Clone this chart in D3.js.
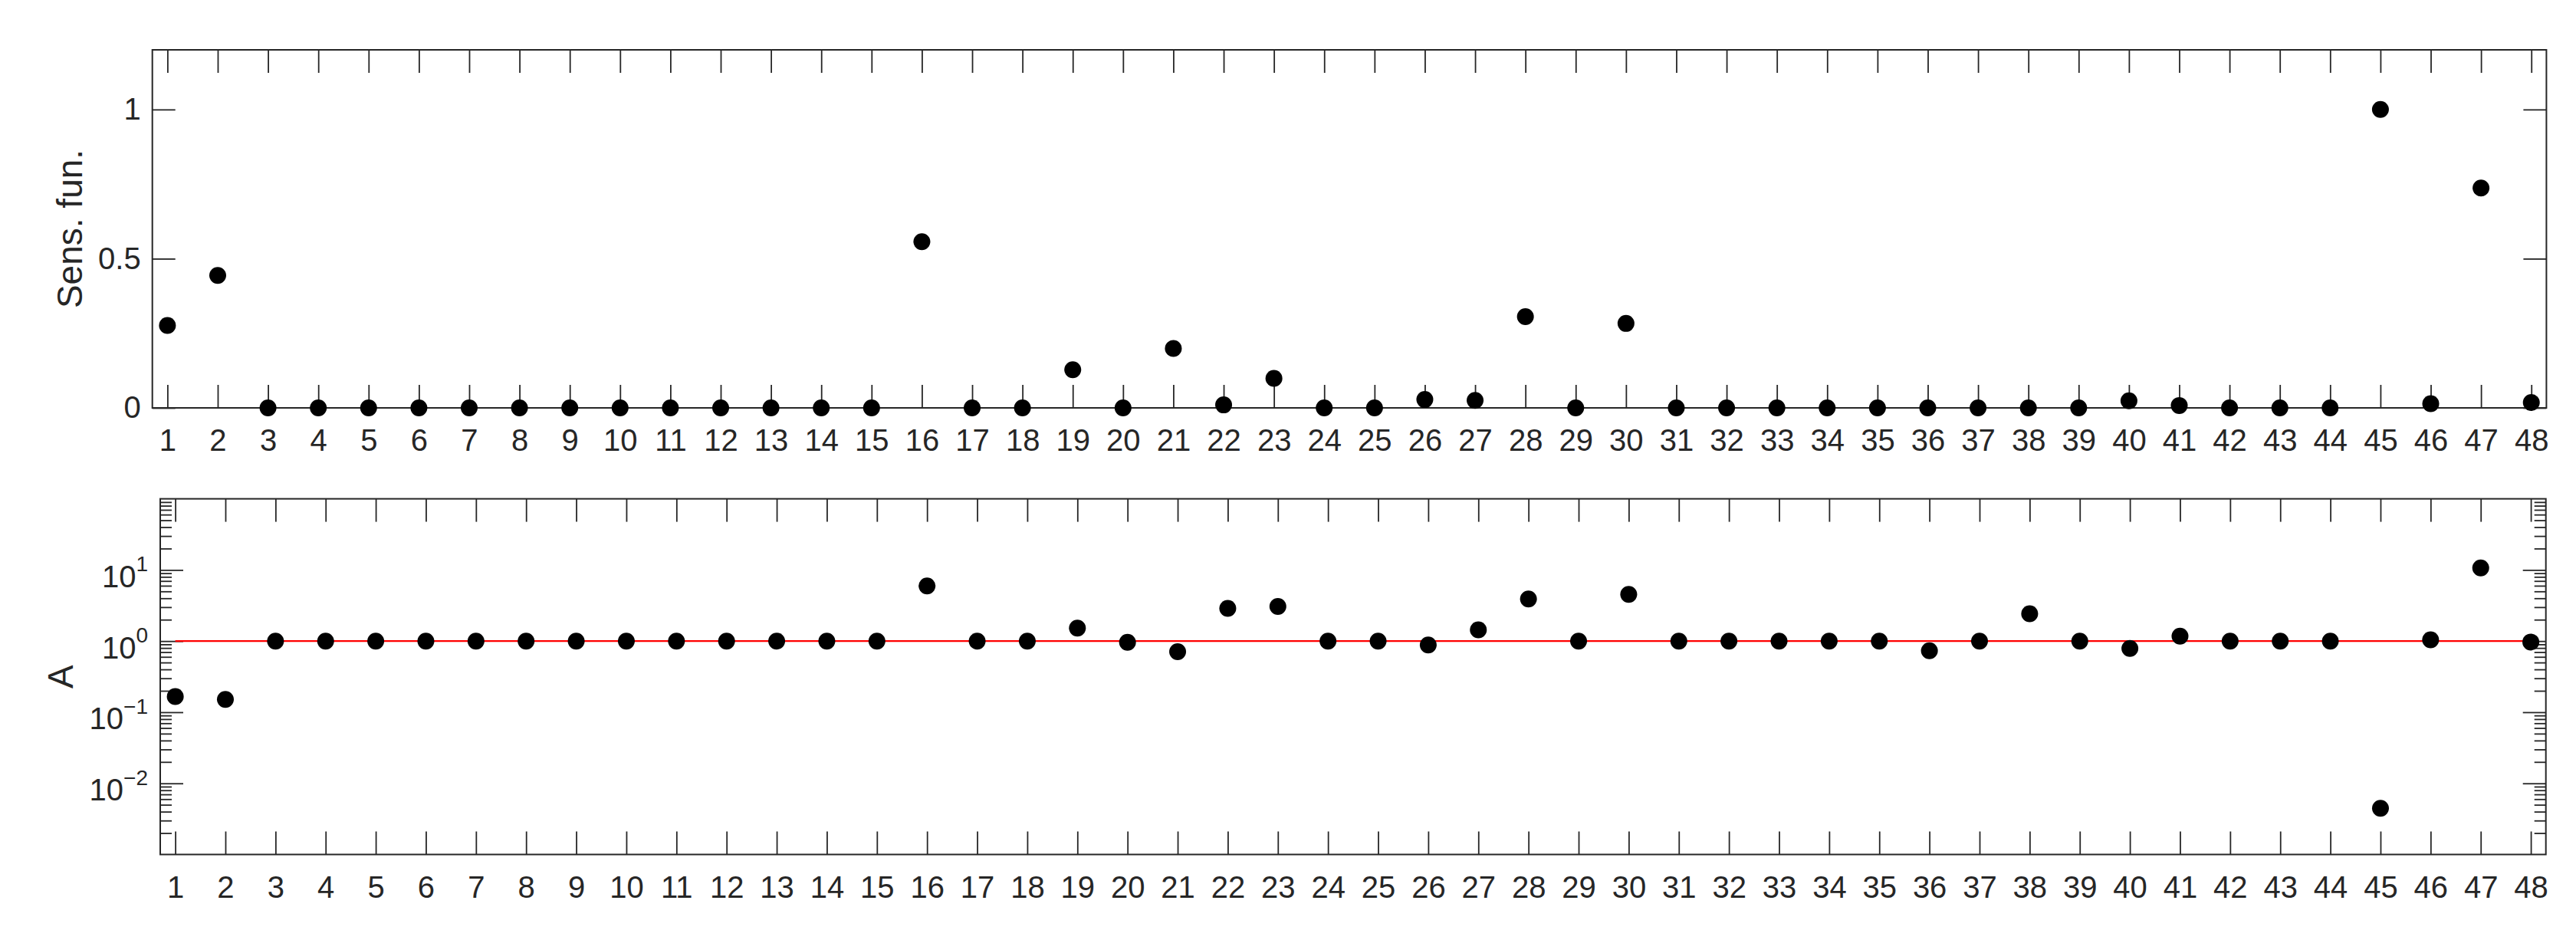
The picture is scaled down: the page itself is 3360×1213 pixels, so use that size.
<!DOCTYPE html>
<html><head><meta charset="utf-8">
<script src="https://cdn.jsdelivr.net/npm/d3@7"></script>
<style>
html,body{margin:0;padding:0;background:#fff;}
svg{display:block;}
</style></head><body>
<svg id="chart" width="3360" height="1213"></svg>
<script>
// ---------- data ----------
const paramIndex = [1,2,3,4,5,6,7,8,9,10,11,12,13,14,15,16,17,18,19,20,21,22,23,24,
                    25,26,27,28,29,30,31,32,33,34,35,36,37,38,39,40,41,42,43,44,45,46,47,48];
const sensFun = [0.276,0.444,0,0,0,0,0,0,0,0,0,0,0,0,0,0.557,0,0,0.128,0,0.199,0.010,0.099,0,
                 0,0.028,0.025,0.306,0,0.283,0,0,0,0,0,0,0,0,0,0.024,0.008,0,0,0,1.0,0.014,0.737,0.018];
const amplitudeA = [0.166,0.151,1,1,1,1,1,1,1,1,1,1,1,1,1,5.95,1,1,1.52,0.96,0.71,2.88,3.07,1,
                    1,0.88,1.44,3.91,1,4.53,1,1,1,1,1,0.73,1,2.42,1,0.79,1.17,1,1,1,0.00447,1.04,10.7,0.97];
const sensTicks = [0, 0.5, 1];
const logMajorTicks = [1e-2, 1e-1, 1, 10];
const refLevel = 1;
const topYLabel = "Sens. fun.";
const bottomYLabel = "A";

// ---------- layout ----------
const FONT = '"Liberation Sans", Arial, Helvetica, sans-serif';
const AX = "#262626";
const svg = d3.select("#chart");
svg.append("rect").attr("width",3360).attr("height",1213).attr("fill","#fff");

const P1 = {l:198.7, r:3321.4, t:65, b:532};
const P2 = {l:209, r:3320.7, t:650.6, b:1114.5};

const x1 = d3.scaleLinear().domain([0.7,48.3]).range([P1.l,P1.r]);
const y1 = d3.scaleLinear().domain([0,1.2]).range([P1.b,P1.t]);
const x2 = d3.scaleLinear().domain([0.7,48.3]).range([P2.l,P2.r]);
const y2 = d3.scaleLog().domain([1e-3,1e2]).range([P2.b,P2.t]);

function style(g, size){
  g.attr("font-family", FONT).attr("font-size", size||40).attr("color", AX);
  g.select(".domain").remove();
  g.selectAll(".tick line").attr("stroke", AX).attr("stroke-width", 1.8);
  g.selectAll(".tick text").attr("fill", AX);
  return g;
}

function xAxes(x, P){
  style(svg.append("g").attr("transform",`translate(0,${P.b})`)
    .call(d3.axisBottom(x).tickValues(paramIndex).tickFormat(d3.format("d"))
      .tickSizeInner(-30).tickSizeOuter(0).tickPadding(28)));
  style(svg.append("g").attr("transform",`translate(0,${P.t})`)
    .call(d3.axisTop(x).tickValues(paramIndex).tickFormat(()=>"")
      .tickSizeInner(-30).tickSizeOuter(0)));
}

// ---------- top panel ----------
xAxes(x1, P1);
style(svg.append("g").attr("transform",`translate(${P1.l},0)`)
  .call(d3.axisLeft(y1).tickValues(sensTicks).tickFormat(d=>String(d))
    .tickSizeInner(-30).tickSizeOuter(0).tickPadding(15)));
style(svg.append("g").attr("transform",`translate(${P1.r},0)`)
  .call(d3.axisRight(y1).tickValues(sensTicks).tickFormat(()=>"")
    .tickSizeInner(-30).tickSizeOuter(0)));
svg.append("rect").attr("x",P1.l).attr("y",P1.t).attr("width",P1.r-P1.l).attr("height",P1.b-P1.t)
  .attr("fill","none").attr("stroke",AX).attr("stroke-width",2);
svg.append("text").attr("transform",`translate(107,${(P1.t+P1.b)/2}) rotate(-90)`)
  .attr("text-anchor","middle").attr("font-family",FONT).attr("font-size",46).attr("fill",AX)
  .text(topYLabel);
svg.append("g").selectAll("circle").data(paramIndex).join("circle")
  .attr("cx",(d)=>x1(d)).attr("cy",(d,i)=>y1(sensFun[i])).attr("r",11).attr("fill","#000");

// ---------- bottom panel ----------
xAxes(x2, P2);
const minorTicks = y2.ticks().filter(d => Math.abs(Math.log10(d) - Math.round(Math.log10(d))) > 1e-6);
const fmtExp = d => { const e = Math.round(Math.log10(d)); return e < 0 ? "\u2212" + (-e) : String(e); };
const gl = style(svg.append("g").attr("transform",`translate(${P2.l},0)`)
  .call(d3.axisLeft(y2).tickValues(logMajorTicks).tickFormat(d=>"10")
    .tickSizeInner(-30).tickSizeOuter(0).tickPadding(16)));
gl.selectAll(".tick text").each(function(d){
  const t = d3.select(this);
  t.text(null).attr("dy","0.55em");
  t.append("tspan").text("10");
  t.append("tspan").attr("font-size",28).attr("dy",-20.5).text(fmtExp(d));
});
style(svg.append("g").attr("transform",`translate(${P2.l},0)`)
  .call(d3.axisLeft(y2).tickValues(minorTicks).tickFormat(()=>"")
    .tickSizeInner(-15).tickSizeOuter(0)));
style(svg.append("g").attr("transform",`translate(${P2.r},0)`)
  .call(d3.axisRight(y2).tickValues(logMajorTicks).tickFormat(()=>"")
    .tickSizeInner(-30).tickSizeOuter(0)));
style(svg.append("g").attr("transform",`translate(${P2.r},0)`)
  .call(d3.axisRight(y2).tickValues(minorTicks).tickFormat(()=>"")
    .tickSizeInner(-15).tickSizeOuter(0)));
svg.append("rect").attr("x",P2.l).attr("y",P2.t).attr("width",P2.r-P2.l).attr("height",P2.b-P2.t)
  .attr("fill","none").attr("stroke",AX).attr("stroke-width",2);
svg.append("text").attr("transform",`translate(95,${(P2.t+P2.b)/2}) rotate(-90)`)
  .attr("text-anchor","middle").attr("font-family",FONT).attr("font-size",46).attr("fill",AX)
  .text(bottomYLabel);
svg.append("line")
  .attr("x1",x2(paramIndex[0])).attr("x2",x2(paramIndex[paramIndex.length-1]))
  .attr("y1",y2(refLevel)).attr("y2",y2(refLevel))
  .attr("stroke","#ff0000").attr("stroke-width",2.2);
svg.append("g").selectAll("circle").data(paramIndex).join("circle")
  .attr("cx",(d)=>x2(d)).attr("cy",(d,i)=>y2(amplitudeA[i])).attr("r",11).attr("fill","#000");
</script>
</body></html>
